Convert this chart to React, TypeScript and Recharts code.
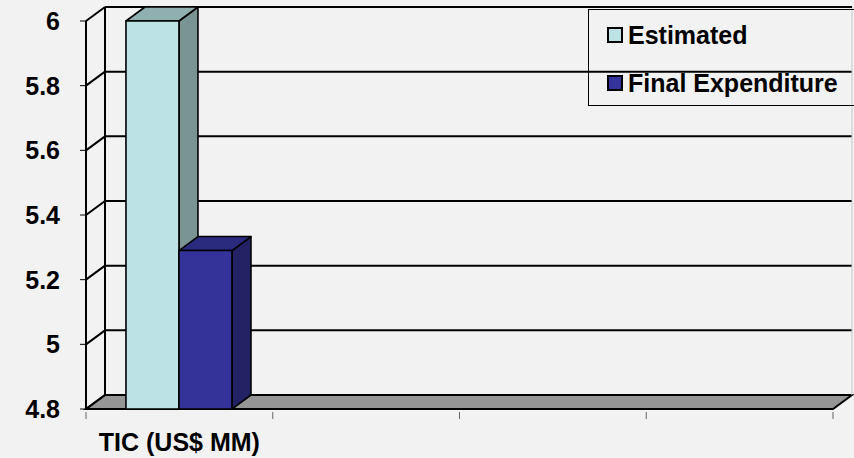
import React from "react";
import { BarChart, Bar, XAxis, YAxis, CartesianGrid, Legend } from "recharts";

// ----- Chart data -----
const categories = ["TIC (US$ MM)", "", "", ""];
const estimated = [6.0, null, null, null];
const finalExpenditure = [5.29, null, null, null];
const yTicks = [4.8, 5, 5.2, 5.4, 5.6, 5.8, 6];

const data = categories.map((name, i) => ({
  name,
  estimated: estimated[i],
  final: finalExpenditure[i],
}));

// depth of the fake 3D box
const DX = 19;
const DY = 14;
const FONT = "'Liberation Sans', Arial, sans-serif";
const FONT_SIZE = 25;

const colors = {
  estimated: { front: "#bde2e5", top: "#8fafb1", side: "#7a9494" },
  final: { front: "#333399", top: "#2a2a7f", side: "#222264" },
};

function make3DBar(c: { front: string; top: string; side: string }) {
  return (props: any) => {
    const { x, y, width, height } = props;
    if (height == null || height <= 0) return <g />;
    const r = x + width;
    const b = y + height;
    return (
      <g stroke="#000" strokeWidth={1.6} strokeLinejoin="round">
        <polygon fill={c.side} points={`${r},${y} ${r + DX},${y - DY} ${r + DX},${b - DY} ${r},${b}`} />
        <polygon fill={c.top} points={`${x},${y} ${x + DX},${y - DY} ${r + DX},${y - DY} ${r},${y}`} />
        <rect x={x} y={y} width={width} height={height} fill={c.front} />
      </g>
    );
  };
}

// back-wall gridline, the diagonal joining it to the front axis, plus floor and wall edges
const wallLine = (props: any) => {
  const { x1, y1, x2, key } = props;
  const top = props.y;
  const bottom = props.y + props.height;
  const isBottom = Math.abs(y1 - bottom) < 1;
  const isTop = Math.abs(y1 - top) < 1;
  return (
    <g key={key}>
      {isBottom && (
        <polygon
          points={`${x1},${y1} ${x2},${y1} ${x2 + DX},${y1 - DY} ${x1 + DX},${y1 - DY}`}
          fill="#969696"
          stroke="#000"
          strokeWidth={2}
        />
      )}
      {isTop && (
        <>
          <line x1={x1 + DX} y1={y1 - DY} x2={x1 + DX} y2={bottom - DY} stroke="#000" strokeWidth={2} />
          <line x1={x2 + DX} y1={y1 - DY} x2={x2 + DX} y2={bottom - DY} stroke="#c8c8c8" strokeWidth={1} />
        </>
      )}
      <line x1={x1 + DX} y1={y1 - DY} x2={x2 + DX} y2={y1 - DY} stroke="#000" strokeWidth={2} />
      <line x1={x1} y1={y1} x2={x1 + DX} y2={y1 - DY} stroke="#000" strokeWidth={2} />
    </g>
  );
};

const CategoryTick = (props: any) => {
  const { x, y, payload, index, visibleTicksCount } = props;
  const half = payload?.offset ?? 0;
  const last = index === visibleTicksCount - 1;
  return (
    <g>
      <line x1={x - half} y1={y + 3} x2={x - half} y2={y + 10} stroke="#666" strokeWidth={1} />
      {last && <line x1={x + half} y1={y + 3} x2={x + half} y2={y + 10} stroke="#666" strokeWidth={1} />}
      <text x={x} y={y + 42} textAnchor="middle" fontFamily={FONT} fontWeight="bold" fontSize={FONT_SIZE} fill="#000">
        {payload.value}
      </text>
    </g>
  );
};

const LegendBox = (props: any) => {
  const items = props.payload || [];
  return (
    <div
      style={{
        width: 280,
        height: 97,
        border: "1px solid #000",
        boxSizing: "border-box",
        position: "relative",
        fontFamily: FONT,
        fontWeight: "bold",
        fontSize: FONT_SIZE,
      }}
    >
      {items.map((it: any, i: number) => (
        <div key={i} style={{ position: "absolute", left: 18, top: 10 + i * 48, height: 30, display: "flex", alignItems: "center" }}>
          <span style={{ display: "inline-block", width: 12, height: 12, background: it.color, border: "2px solid #000", marginRight: 5 }} />
          <span style={{ color: "#000", whiteSpace: "nowrap" }}>{it.value}</span>
        </div>
      ))}
    </div>
  );
};

export default function App() {
  return (
    <div style={{ position: "absolute", left: 0, top: 0, width: 854, height: 458, background: "#f2f2f2", overflow: "hidden" }}>
      <BarChart
        width={854}
        height={458}
        data={data}
        margin={{ top: 21, right: 21, left: 0, bottom: 0 }}
        barCategoryGap="21.4%"
        barGap={0}
      >
        <CartesianGrid vertical={false} horizontal={wallLine} />
        <XAxis
          dataKey="name"
          height={49}
          axisLine={false}
          tickLine={false}
          tickSize={0}
          tickMargin={0}
          interval={0}
          tick={<CategoryTick />}
        />
        <YAxis
          width={86}
          domain={[4.8, 6]}
          ticks={yTicks}
          interval={0}
          axisLine={{ stroke: "#000", strokeWidth: 2 }}
          tickLine={{ stroke: "#000", strokeWidth: 1 }}
          tickSize={6}
          tickMargin={20}
          tick={{ fill: "#000", fontFamily: FONT, fontWeight: "bold", fontSize: FONT_SIZE }}
        />
        <Legend
          layout="horizontal"
          verticalAlign="middle"
          align="center"
          content={<LegendBox />}
          wrapperStyle={{ position: "absolute", left: 588, top: 9, width: 280, height: 97 }}
        />
        <Bar dataKey="estimated" name="Estimated" fill={colors.estimated.front} shape={make3DBar(colors.estimated)} isAnimationActive={false} />
        <Bar dataKey="final" name="Final Expenditure" fill={colors.final.front} shape={make3DBar(colors.final)} isAnimationActive={false} />
      </BarChart>
    </div>
  );
}
